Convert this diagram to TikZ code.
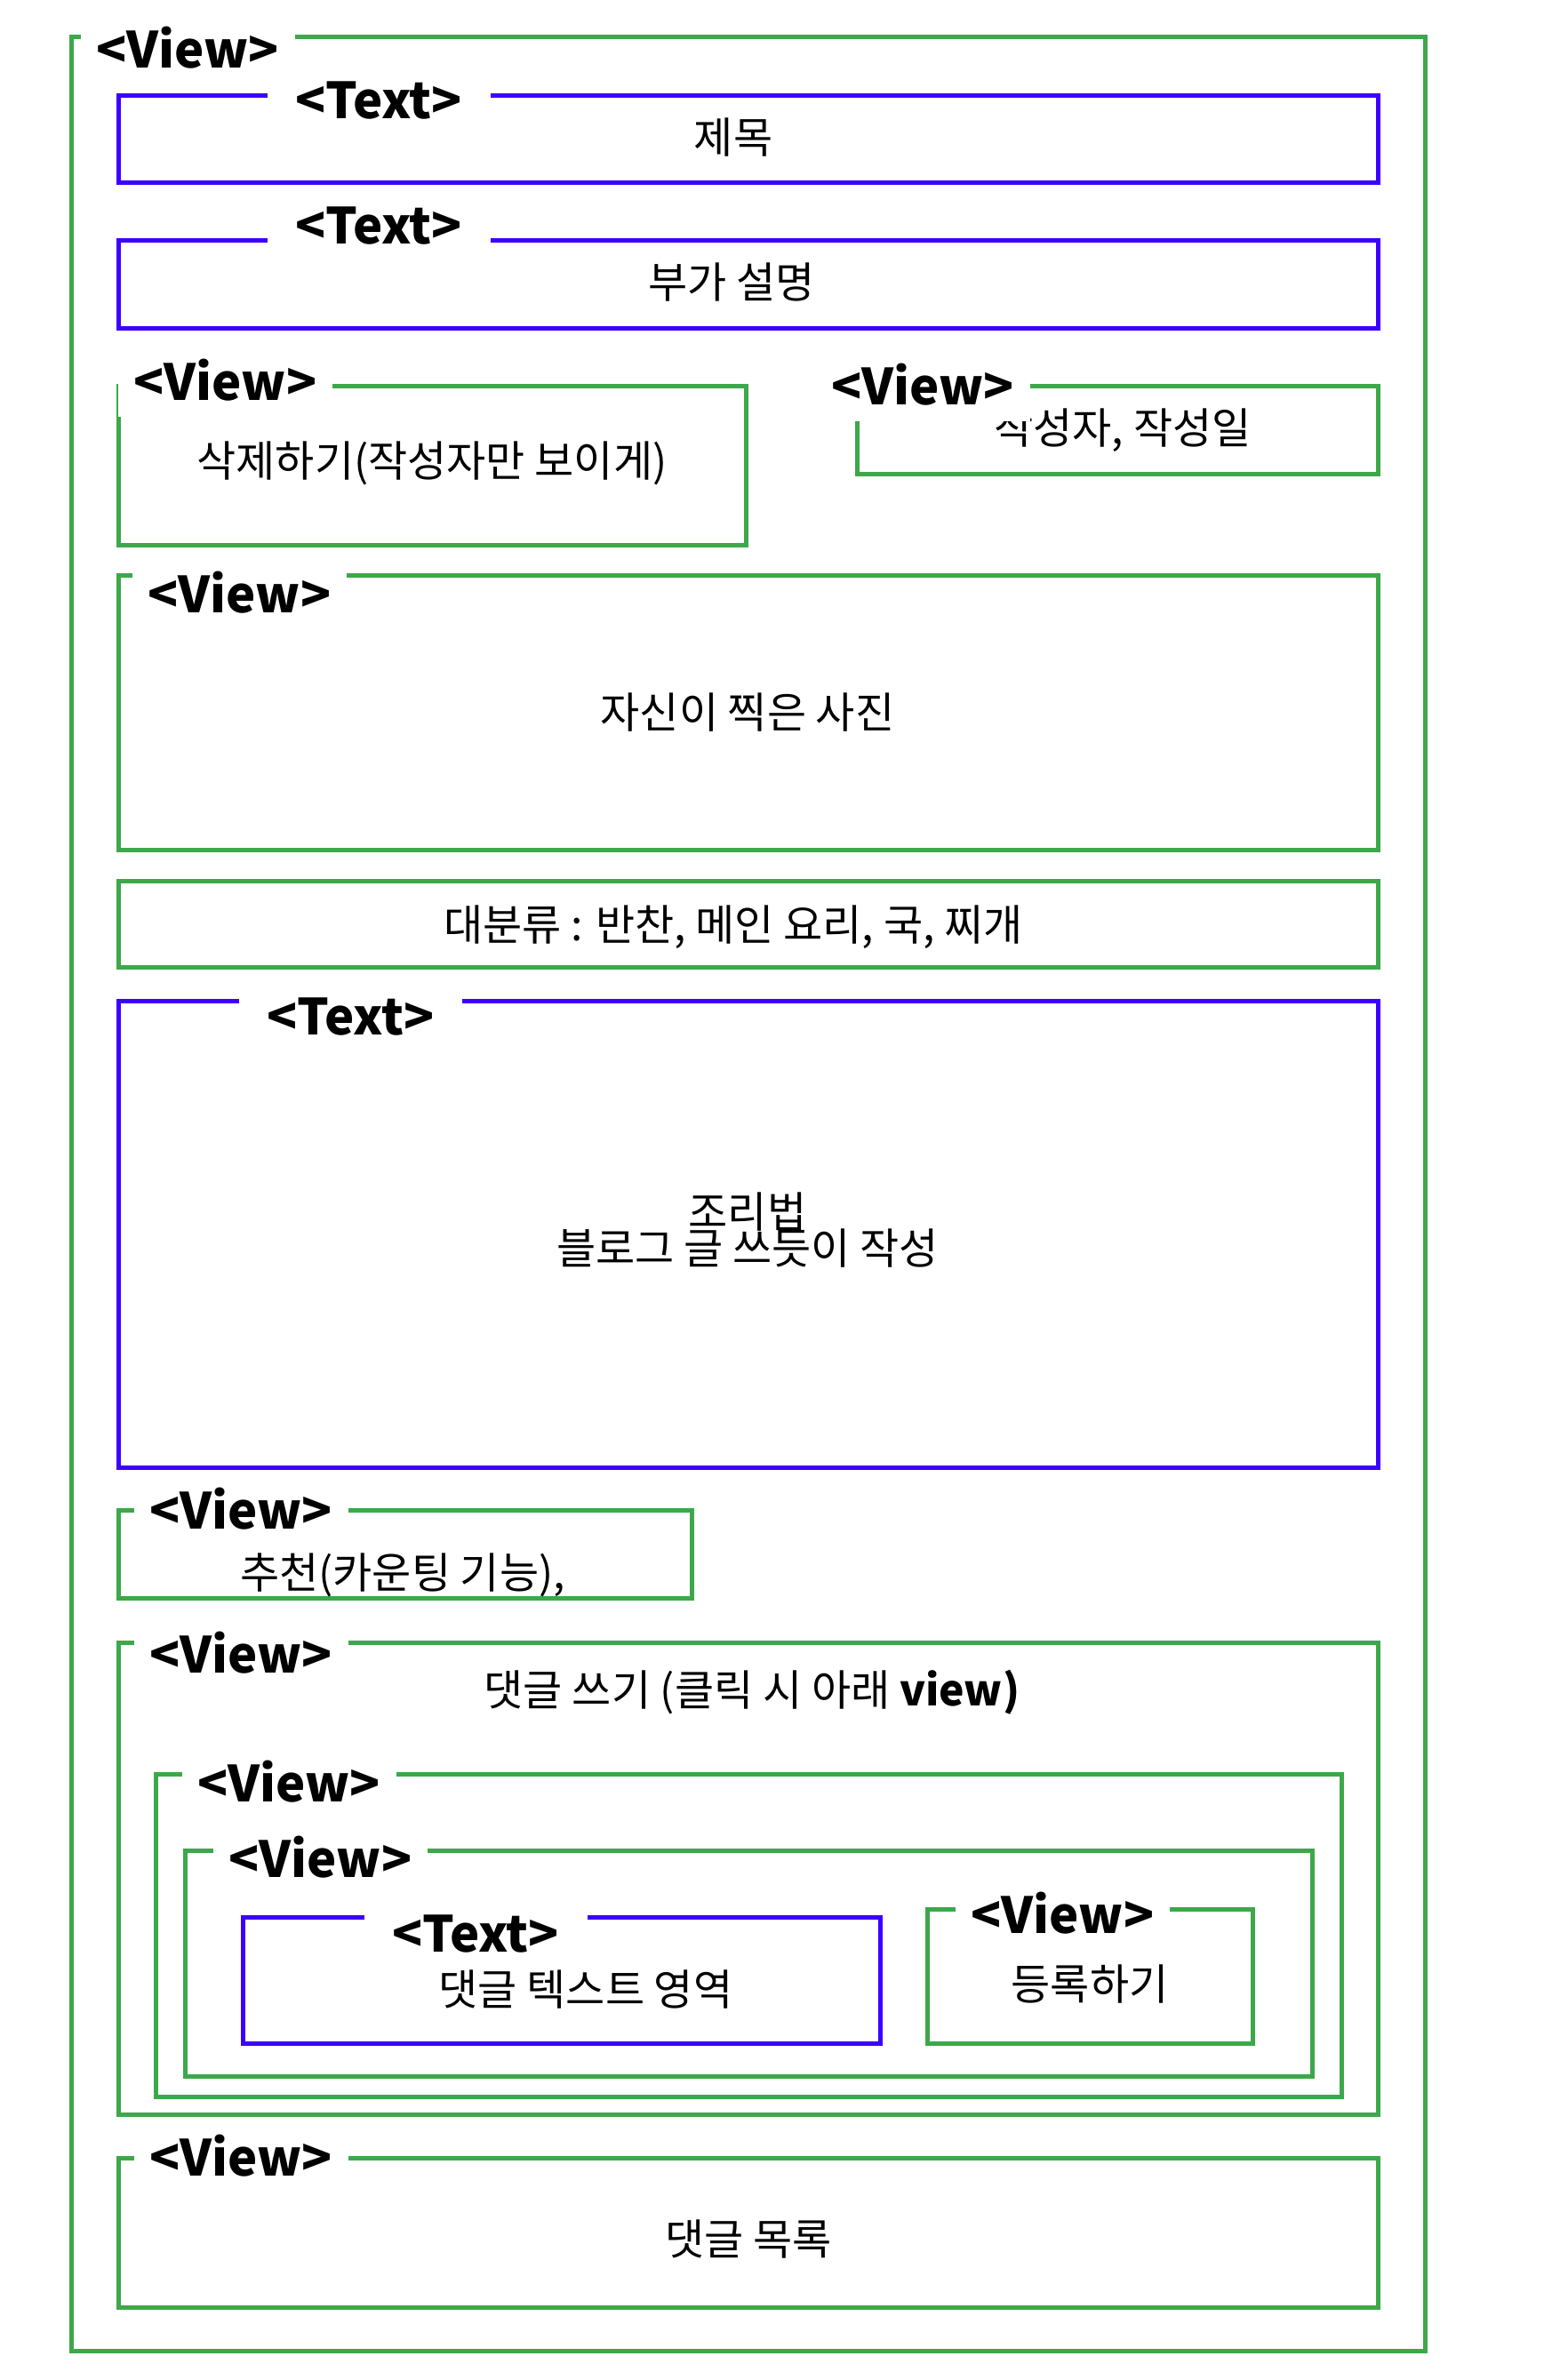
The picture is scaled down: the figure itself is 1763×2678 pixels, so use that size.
\documentclass[tikz,border=0pt]{standalone}
\usepackage{fontspec}
\setmainfont{Noto Sans CJK KR}
\definecolor{vgreen}{RGB}{61,168,74}
\definecolor{tblue}{RGB}{60,0,255}
\begin{document}
\begin{tikzpicture}[x=0.5pt,y=-0.5pt,
  vbox/.style={draw=vgreen,line width=2.5pt},
  tbox/.style={draw=tblue,line width=2.5pt},
  tag/.style={fill=white,inner xsep=0pt,inner ysep=0pt,text height=25pt,text depth=9.5pt,
    font=\fontsize{28}{28}\selectfont\bfseries,anchor=base},
  viewtag/.style={tag,minimum width=120.5pt},
  texttag/.style={tag,minimum width=125.5pt},
  body/.style={inner sep=0pt,anchor=base,font=\fontsize{24}{24}\selectfont}]
\useasboundingbox (0,0) rectangle (1763,2678);
% boxes
\draw[vbox] (80,41.5) rectangle (1603,2645);
\draw[tbox] (133,107.4) rectangle (1550,205);
\draw[tbox] (133,270) rectangle (1550,369);
\draw[vbox] (133,434) rectangle (839,613);
\draw[vbox] (964.5,434) rectangle (1550,533);
\draw[vbox] (133,647) rectangle (1550,956);
\draw[vbox] (133,991) rectangle (1550,1088);
\draw[tbox] (133,1126.5) rectangle (1550,1651);
\draw[vbox] (133,1699) rectangle (778,1798);
\draw[vbox] (133,1848) rectangle (1550,2379);
\draw[vbox] (175,1996.5) rectangle (1509,2359);
\draw[vbox] (208,2082) rectangle (1476,2336);
\draw[tbox] (273,2157) rectangle (990,2299);
\draw[vbox] (1043,2148) rectangle (1409,2299);
\draw[vbox] (133,2428.5) rectangle (1550,2596);
% texts
\node[body] (title) at (825,172) {제목};
\node[body] (subtitle) at (823,335) {부가 설명};
\node[body] (delete) at (486,536) {삭제하기(작성자만 보이게)};
\node[body] (author) at (1263,499) {작성자, 작성일};
\node[body] (photo) at (841,819) {자신이 찍은 사진};
\node[body] (category) at (825,1058) {대분류 : 반찬, 메인 요리, 국, 찌개};
\node[body] (recipe) at (841,1381) {조리법};
\node[body] (blog) at (841,1422) {블로그 글 쓰듯이 작성};
\node[body] (like) at (453,1787) {추천(카운팅 기능),};
\node[body] (write) at (846,1919) {댓글 쓰기 (클릭 시 아래 \textbf{view)}};
\node[body] (ctext) at (659,2256) {댓글 텍스트 영역};
\node[body] (submit) at (1226,2250) {등록하기};
\node[body] (clist) at (842,2537) {댓글 목록};
% tags
\node[viewtag] (tOuter) at (211,76) {<View>};
\node[texttag] (tA) at (426,133.5) {<Text>};
\node[texttag] (tB) at (426,274.4) {<Text>};
\node[viewtag] (tC) at (253.5,450) {<View>};
\node[viewtag] (tD) at (1038,455) {<View>};
\node[viewtag] (tE) at (269.5,689) {<View>};
\node[texttag] (tG) at (394.5,1164) {<Text>};
\node[viewtag] (tH) at (271,1720) {<View>};
\node[viewtag] (tI) at (271,1882) {<View>};
\node[viewtag] (tJ) at (325,2027) {<View>};
\node[viewtag] (tK) at (360.5,2112) {<View>};
\node[texttag] (tL) at (535,2196.5) {<Text>};
\node[viewtag] (tM) at (1195.5,2175) {<View>};
\node[viewtag] (tN) at (271,2448) {<View>};
\end{tikzpicture}
\end{document}
